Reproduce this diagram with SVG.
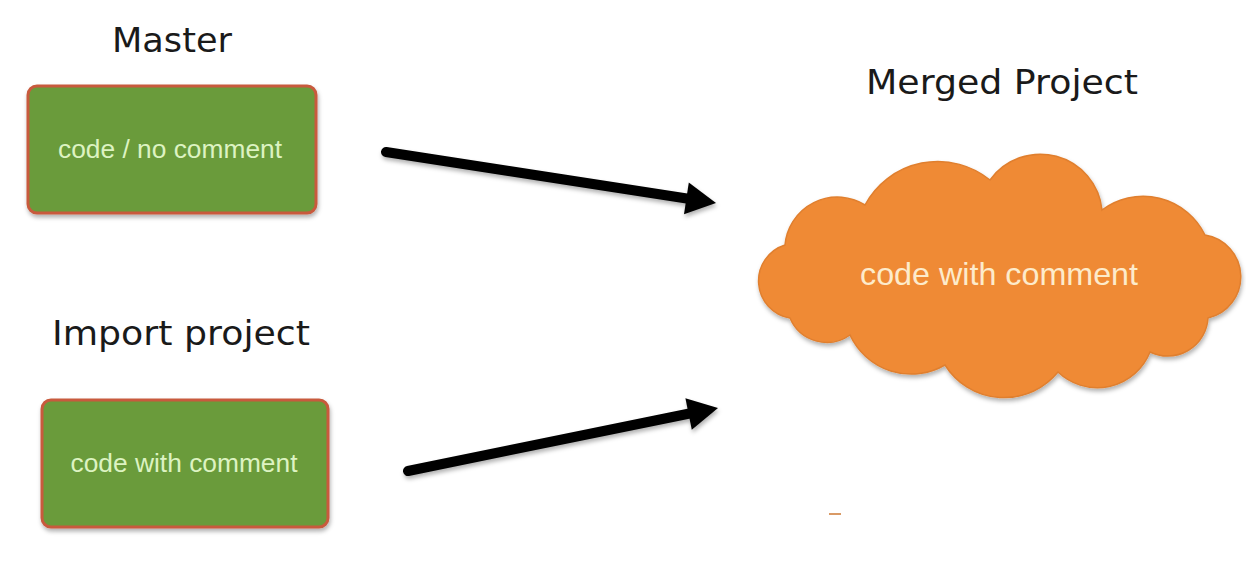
<svg xmlns="http://www.w3.org/2000/svg" width="1246" height="580" viewBox="0 0 1246 580">
  <defs>
    <filter id="sh" x="-10%" y="-10%" width="120%" height="130%">
      <feDropShadow dx="1" dy="3" stdDeviation="2" flood-color="#000" flood-opacity="0.3"/>
    </filter>
    <style>
      .title { font-family: "DejaVu Sans", Verdana, sans-serif; font-size: 34px; fill: #1a1a1a; }
      .box { fill: #6a9b3b; stroke: #c85a3c; stroke-width: 3; }
      .boxtext { font-family: "Liberation Sans", Arial, sans-serif; font-size: 26px; fill: #ddf3c2; text-anchor: middle; }
      .cloud { fill: #ef8a35; stroke: #e07f2e; stroke-width: 1.5; }
      .cloudtext { font-family: "Liberation Sans", Arial, sans-serif; font-size: 32px; fill: #fdebcb; text-anchor: middle; }
      .conn { stroke: #000; stroke-width: 10; stroke-linecap: round; fill: none; }
      .head { fill: #000; }
    </style>
  </defs>
  <rect width="1246" height="580" fill="#ffffff"/>

  <g id="master">
    <text class="title" x="112" y="52" textLength="120" lengthAdjust="spacingAndGlyphs">Master</text>
    <rect class="box" x="28" y="86" width="288" height="127" rx="9" filter="url(#sh)"/>
    <text class="boxtext" x="170" y="158" textLength="224" lengthAdjust="spacingAndGlyphs">code / no comment</text>
  </g>

  <g id="import">
    <text class="title" x="52" y="345" textLength="258" lengthAdjust="spacingAndGlyphs">Import project</text>
    <rect class="box" x="42" y="400" width="286" height="127" rx="9" filter="url(#sh)"/>
    <text class="boxtext" x="184" y="472" textLength="227" lengthAdjust="spacingAndGlyphs">code with comment</text>
  </g>

  <g id="merged">
    <text class="title" x="866" y="94" textLength="272" lengthAdjust="spacingAndGlyphs">Merged Project</text>
    <path class="cloud" filter="url(#sh)" d="M785,245 A52.5,52.5 0 0 1 865,205 A82.7,82.7 0 0 1 990,180 A62,62 0 0 1 1102,210 A68.7,68.7 0 0 1 1205,235 A42.3,42.3 0 0 1 1208,318 A40.4,40.4 0 0 1 1150,352 A56.8,56.8 0 0 1 1058,372 A69.7,69.7 0 0 1 945,365 A67.4,67.4 0 0 1 850,335 A40,40 0 0 1 790,318 A37.6,37.6 0 0 1 785,245 Z"/>
    <text class="cloudtext" x="999" y="285" textLength="278" lengthAdjust="spacingAndGlyphs">code with comment</text>
  </g>

  <g id="connectors" filter="url(#sh)">
    <line class="conn" x1="386" y1="152" x2="690" y2="199"/>
    <polygon class="head" points="716,203 684,214.2 688.8,182.6"/>
    <line class="conn" x1="408" y1="471" x2="692" y2="413"/>
    <polygon class="head" points="718,408 691.8,429.7 685.4,398.3"/>
  </g>

  <rect x="829" y="513" width="12" height="2" fill="#d99a66"/>
</svg>
